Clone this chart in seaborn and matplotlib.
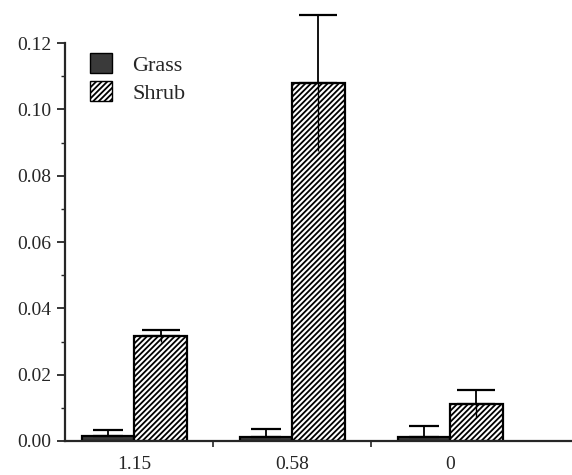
import seaborn as sns
import matplotlib.pyplot as plt
import pandas as pd
from matplotlib.patches import Patch
from matplotlib.ticker import MultipleLocator, FixedLocator

groups = ['1.15', '0.58', '0']
grass = [0.0016, 0.0013, 0.0013]
grass_err = [0.0017, 0.0023, 0.0032]
shrub = [0.0317, 0.1080, 0.0113]
shrub_err = [0.0018, 0.0205, 0.0042]

df = pd.DataFrame({
    'group': groups * 2,
    'cover': ['Grass'] * 3 + ['Shrub'] * 3,
    'value': grass + shrub,
})

sns.set_style('ticks')
plt.rcParams['font.family'] = ['Liberation Serif', 'DejaVu Serif']
plt.rcParams['hatch.linewidth'] = 1.3

fig = plt.figure(figsize=(5.72, 4.75), dpi=100)
ax = fig.add_axes([0.1136, 0.0716, 0.8864, 0.8375])

sns.barplot(data=df, x='group', y='value', hue='cover', order=groups,
            hue_order=['Grass', 'Shrub'], palette=['#3a3a3a', 'white'],
            width=0.66, errorbar=None, edgecolor='black', linewidth=1.6,
            legend=False, ax=ax)

# hatch the shrub bars
for bar in ax.containers[1]:
    bar.set_hatch('//////')

# error bars: capped upper part, dotted lower part inside the shrub bars
for cont, vals, errs, cap in [(ax.containers[0], grass, grass_err, 11),
                              (ax.containers[1], shrub, shrub_err, 14)]:
    xs = [b.get_x() + b.get_width() / 2 for b in cont]
    ax.errorbar(xs, vals, yerr=[[0] * 3, errs], fmt='none', ecolor='black',
                elinewidth=1.3, capsize=cap, capthick=1.6, clip_on=False)
xs = [b.get_x() + b.get_width() / 2 for b in ax.containers[1]]
ax.errorbar(xs, shrub, yerr=[shrub_err, [0] * 3], fmt='none', ecolor='black',
            elinewidth=1.0, capsize=0, linestyle=':', clip_on=False)

ax.set_xlim(-0.44, 2.77)
ax.set_ylim(0, 0.12)
ax.yaxis.set_major_locator(MultipleLocator(0.02))
ax.yaxis.set_minor_locator(MultipleLocator(0.01))
ax.yaxis.set_major_formatter(lambda v, p: f'{v:.2f}')
ax.xaxis.set_minor_locator(FixedLocator([0.5, 1.5]))
ax.tick_params(axis='y', which='major', direction='out', length=6, width=1.3,
               labelsize=14, pad=4)
ax.tick_params(axis='y', which='minor', direction='out', length=3, width=1.0)
ax.tick_params(axis='x', which='major', length=0, labelsize=14, pad=11)
ax.tick_params(axis='x', which='minor', direction='out', length=4, width=1.2)
ax.set_xlabel('')
ax.set_ylabel('')

sns.despine(ax=ax)
ax.spines['left'].set_linewidth(1.6)
ax.spines['bottom'].set_linewidth(1.6)

handles = [Patch(facecolor='#3a3a3a', edgecolor='black', label='Grass'),
           Patch(facecolor='white', edgecolor='black', hatch='//////', label='Shrub')]
ax.legend(handles=handles, loc='upper left', bbox_to_anchor=(0.01, 1.025),
          frameon=False, fontsize=16, handlelength=1.0, handleheight=1.0,
          handletextpad=0.9, labelspacing=0.25)

fig.savefig('out.png', dpi=100)
